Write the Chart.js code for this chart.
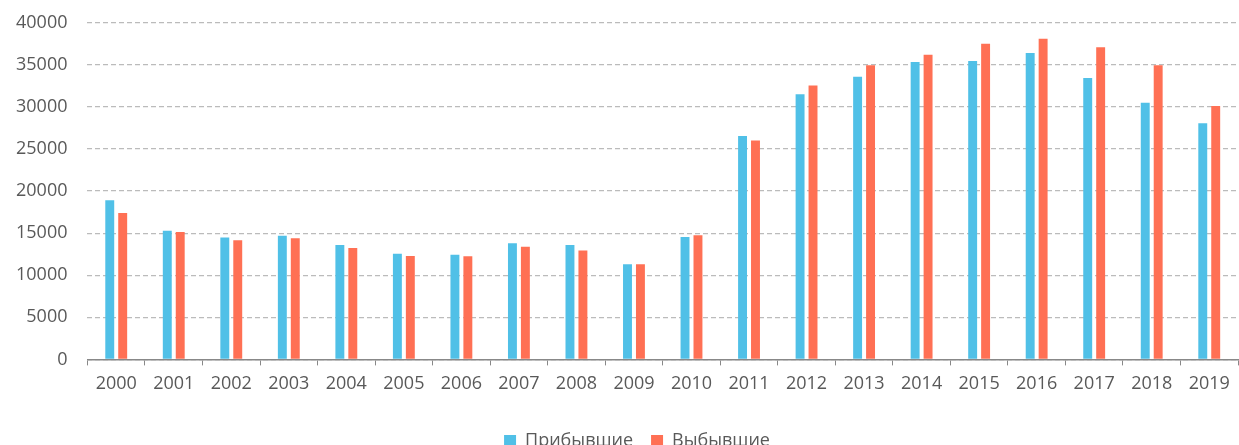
<!DOCTYPE html>
<html>
<head>
<meta charset="utf-8">
<script src="https://cdn.jsdelivr.net/npm/chart.js@4/dist/chart.umd.min.js"></script>
<style>
  html, body { margin: 0; padding: 0; background: #fff; overflow: hidden; }
  #wrap { width: 1239px; height: 457px; margin-top: -8px; position: relative; }
</style>
</head>
<body>
<div id="wrap"><canvas id="webChart"></canvas></div>
<script>
// data
const years = ["2000","2001","2002","2003","2004","2005","2006","2007","2008","2009",
               "2010","2011","2012","2013","2014","2015","2016","2017","2018","2019"];
const arrived = [18900,15300,14500,14700,13600,12550,12450,13800,13600,11300,
                 14550,26550,31500,33600,35350,35450,36400,33450,30500,28050];
const departed = [17400,15150,14150,14400,13250,12300,12250,13400,12950,11300,
                  14750,26000,32550,34950,36200,37500,38100,37100,34950,30100];
const seriesNames = ["Прибывшие", "Выбывшие"];

const blue = "#50C0E7";
const red = "#FF7054";
const textGray = "#595959";

Chart.defaults.font.family = "'Open Sans', sans-serif";
Chart.defaults.font.size = 18;
Chart.defaults.color = textGray;

// nudge the legend a little right and down, like the original
const legendShift = {
  id: "legendShift",
  afterLayout(chart) {
    const lg = chart.legend;
    lg.left += 20; lg.right += 20;
    lg.top += 11; lg.bottom += 11;
  }
};

new Chart("webChart", {
  type: "bar",
  data: {
    labels: years,
    datasets: [
      { label: seriesNames[0], data: arrived, backgroundColor: blue, categoryPercentage: 0.45, barPercentage: 0.69 },
      { label: seriesNames[1], data: departed, backgroundColor: red, categoryPercentage: 0.45, barPercentage: 0.69 }
    ]
  },
  options: {
    responsive: true,
    maintainAspectRatio: false,
    animation: false,
    layout: { padding: { top: 4, right: 1, left: -4, bottom: 0 } },
    plugins: {
      legend: {
        position: "bottom",
        labels: { boxWidth: 12, boxHeight: 12, padding: 18, color: textGray }
      },
      tooltip: { enabled: false }
    },
    scales: {
      x: {
        offset: true,
        grid: { offset: true, drawOnChartArea: false, drawTicks: true, tickLength: 6, color: "#888" },
        border: { display: true, color: "#888", width: 1.5 },
        ticks: { padding: 8, color: textGray }
      },
      y: {
        min: 0,
        max: 40000,
        ticks: { stepSize: 5000, padding: 20, color: textGray, callback: v => String(v) },
        grid: { drawTicks: false, color: "#BBBBBB", lineWidth: 1.3 },
        border: { display: false, dash: [5, 3] }
      }
    }
  },
  plugins: [legendShift]
});
</script>
</body>
</html>
